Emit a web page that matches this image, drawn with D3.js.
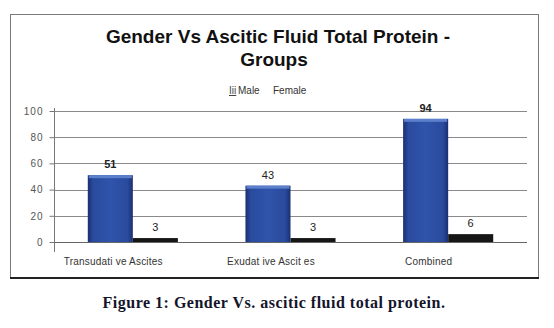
<!DOCTYPE html>
<html lang="en">
<head>
<meta charset="UTF-8">
<title>Gender Vs Ascitic Fluid Total Protein</title>
<script src="https://d3js.org/d3.v7.min.js"></script>
<style>
  body { margin: 0; background: #fff; }
  svg { display: block; }
</style>
</head>
<body>
<div id="container"></div>
<script>
    // Data
    const categories = ["Transudati ve Ascites", "Exudat ive Ascit es", "Combined"];
    const series = ["Male", "Female"];
    const maleValues = [51, 43, 94];
    const femaleValues = [3, 3, 6];
    const yTicks = [0, 20, 40, 60, 80, 100];

    const W = 554, H = 328;

    // plot area
    const plotLeft = 54, plotRight = 527, plotTop = 111, plotBottom = 242;

    const svg = d3.select("#container")
        .append("svg")
        .attr("width", W)
        .attr("height", H);

    // gradient for the blue bars
    const defs = svg.append("defs");
    const grad = defs.append("linearGradient").attr("id", "blueBar")
        .attr("x1", 0).attr("x2", 1).attr("y1", 0).attr("y2", 0);
    grad.append("stop").attr("offset", "0%").attr("stop-color", "#1b2f72");
    grad.append("stop").attr("offset", "12%").attr("stop-color", "#2a4b9e");
    grad.append("stop").attr("offset", "50%").attr("stop-color", "#2f54aa");
    grad.append("stop").attr("offset", "88%").attr("stop-color", "#2a4b9e");
    grad.append("stop").attr("offset", "100%").attr("stop-color", "#1b2f72");

    // Frame
    svg.append("rect")
       .attr("x", 10.5).attr("y", 14.5)
       .attr("width", 528).attr("height", 263)
       .attr("fill", "white")
       .attr("stroke", "#7a7a7a");
    svg.append("line")
       .attr("x1", 10).attr("x2", 539)
       .attr("y1", 278).attr("y2", 278)
       .attr("stroke", "#222").attr("stroke-width", 2);

    // Title
    const title = svg.append("text")
       .attr("text-anchor", "middle")
       .attr("font-family", "'Liberation Sans', Arial, sans-serif")
       .attr("font-weight", "bold")
       .attr("font-size", 19)
       .attr("fill", "#111");
    title.append("tspan").attr("x", 278).attr("y", 43).text("Gender Vs Ascitic Fluid Total Protein -");
    title.append("tspan").attr("x", 274).attr("y", 66).text("Groups");

    // Legend
    svg.append("text")
       .attr("x", 229).attr("y", 94)
       .attr("font-family", "'Liberation Sans', Arial, sans-serif")
       .attr("font-size", 10).attr("fill", "#444")
       .attr("text-decoration", "underline")
       .text("Iii");
    svg.append("g")
       .selectAll("text")
       .data(series)
       .join("text")
       .attr("x", (d, i) => 238 + i * 35)
       .attr("y", 94)
       .attr("font-family", "'Liberation Sans', Arial, sans-serif")
       .attr("font-size", 10)
       .attr("fill", "#333")
       .text(d => d);

    // Scales
    const y = d3.scaleLinear().domain([0, 100]).range([plotBottom, plotTop]);
    const x0 = d3.scaleBand().domain(categories).range([plotLeft, plotRight]).padding(0);
    const x1 = d3.scaleBand().domain(series).range([0, x0.bandwidth()])
                 .paddingInner(0).paddingOuter(0.75);
    const color = d3.scaleOrdinal().domain(series).range(["url(#blueBar)", "#161616"]);

    // Grid
    svg.append("g")
       .selectAll("line")
       .data(yTicks)
       .join("line")
       .attr("x1", plotLeft).attr("x2", plotRight)
       .attr("y1", d => Math.round(y(d)) + 0.5)
       .attr("y2", d => Math.round(y(d)) + 0.5)
       .attr("stroke", d => d === 0 ? "#666" : "#8a8a8a")
       .attr("stroke-width", 1);

    // Y axis
    const yAxis = d3.axisLeft(y).tickValues(yTicks).tickSize(5).tickPadding(6);
    const gy = svg.append("g")
       .attr("transform", `translate(${plotLeft + 0.5},0)`)
       .call(yAxis);
    gy.select(".domain").remove();
    gy.append("line")
      .attr("x1", 0).attr("x2", 0)
      .attr("y1", y(100) - 3).attr("y2", y(0) + 10)
      .attr("stroke", "#777");
    gy.selectAll(".tick line").attr("stroke", "#777");
    gy.selectAll(".tick text")
      .attr("font-family", "'Liberation Sans', Arial, sans-serif")
      .attr("font-size", 10)
      .attr("letter-spacing", "1px")
      .attr("fill", "#555");

    // Table for bars
    const rows = categories.map((c, i) => ({ cat: c, Male: maleValues[i], Female: femaleValues[i] }));

    const groups = svg.append("g")
       .selectAll("g")
       .data(rows)
       .join("g")
       .attr("transform", d => `translate(${x0(d.cat)},0)`);

    groups.selectAll("rect.bar")
       .data(d => series.map(s => ({ key: s, value: d[s] })))
       .join("rect")
       .attr("class", "bar")
       .attr("x", d => x1(d.key))
       .attr("y", d => y(d.value))
       .attr("width", x1.bandwidth())
       .attr("height", d => y(0) - y(d.value))
       .attr("fill", d => color(d.key));

    // bevel highlight on male bars
    groups.append("rect")
       .attr("x", x1("Male") + 1)
       .attr("y", d => y(d.Male))
       .attr("width", x1.bandwidth() - 2)
       .attr("height", 3)
       .attr("fill", "#5b7fcb");

    // Value labels
    groups.selectAll("text.val")
       .data(d => series.map(s => ({ key: s, value: d[s] })))
       .join("text")
       .attr("class", "val")
       .attr("x", d => x1(d.key) + x1.bandwidth() / 2)
       .attr("y", d => y(d.value) - 7)
       .attr("text-anchor", "middle")
       .attr("font-family", "'Liberation Sans', Arial, sans-serif")
       .attr("font-size", 11)
       .attr("font-weight", d => d.key === "Male" && d.value !== 43 ? "bold" : "normal")
       .attr("fill", "#222")
       .text(d => d.value);

    // Category labels
    groups.append("text")
       .attr("x", x1("Male") + x1.bandwidth() / 2 + 3)
       .attr("y", 265)
       .attr("text-anchor", "middle")
       .attr("font-family", "'Liberation Sans', Arial, sans-serif")
       .attr("font-size", 10)
       .attr("letter-spacing", "0.2px")
       .attr("fill", "#333")
       .text(d => d.cat);

    // Caption
    svg.append("text")
       .attr("x", 274).attr("y", 308)
       .attr("text-anchor", "middle")
       .attr("font-family", "'Liberation Serif', 'DejaVu Serif', serif")
       .attr("font-weight", "bold")
       .attr("font-size", 16)
       .attr("letter-spacing", "0.5px")
       .attr("fill", "#14142b")
       .text("Figure 1: Gender Vs. ascitic fluid total protein.");
</script>
</body>
</html>
